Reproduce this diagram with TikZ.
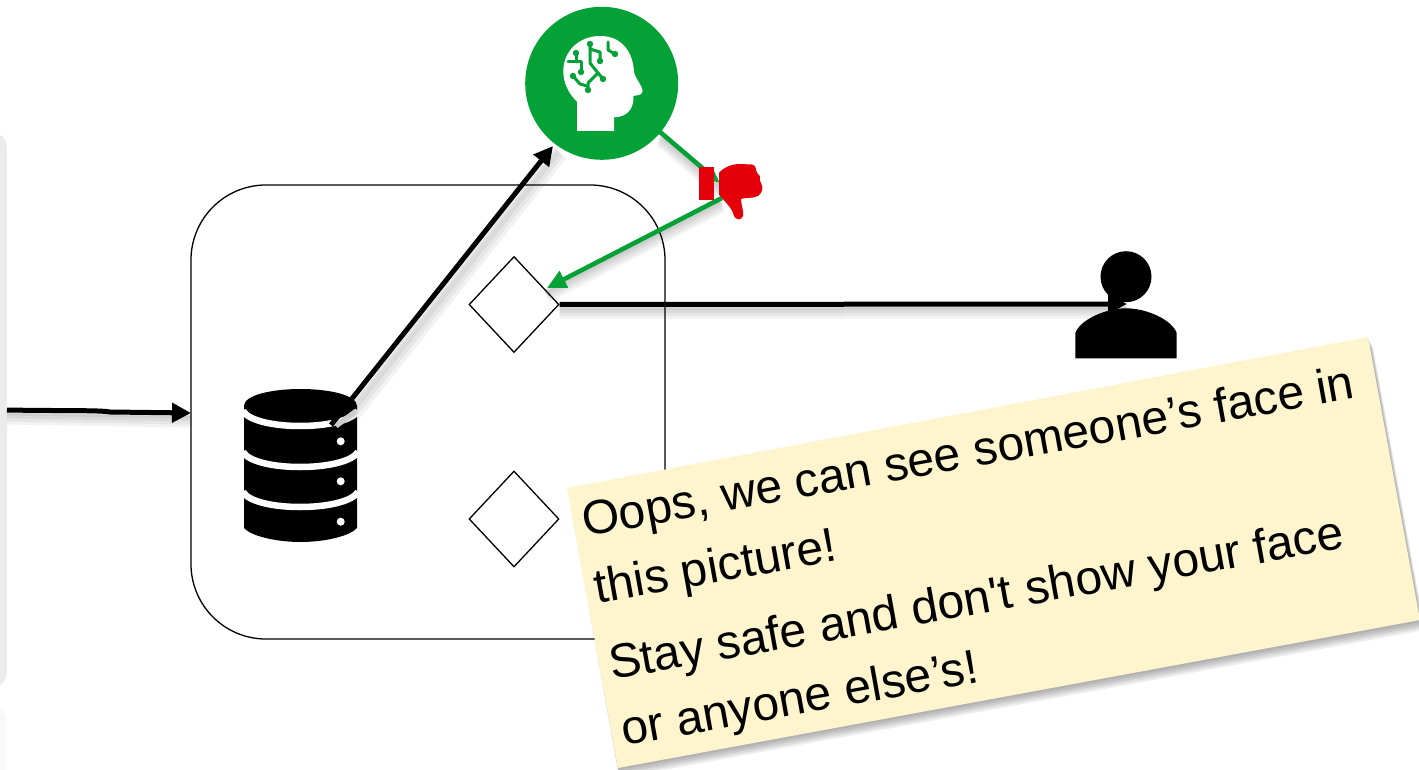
\documentclass[tikz,border=0pt]{standalone}
\usepackage{fontspec}
\setmainfont{Liberation Sans}
\newfontfamily\plainf{Liberation Sans}
\usetikzlibrary{arrows.meta,shapes.geometric}
\definecolor{gr}{HTML}{04A136}
\definecolor{rd}{HTML}{E3000B}
\definecolor{sticky}{HTML}{FEF4CD}
\tikzset{
 blk/.style={draw=black,line width=5pt,-{Triangle[length=19pt,width=19pt]}},
 grn/.style={draw=gr,line width=4.6pt,-{Triangle[length=19pt,width=18pt]}},
 shd/.style={draw=black,opacity=.05,line width=#1},
 dia/.style={diamond,draw=black,line width=1.3pt,fill=white,minimum width=90pt,minimum height=96pt,inner sep=0pt,aspect=.94},
 stxt/.style={anchor=base west,rotate=10.2,font=\plainf\fontsize{48}{48}\selectfont,inner sep=0pt,text=black},
 cir/.style={draw=gr,line width=3pt,line cap=round,line join=round},
 dot/.style={fill=gr},
}
\begin{document}
\begin{tikzpicture}[x=1pt,y=-1pt]
\useasboundingbox (0,0) rectangle (1419,770);
% left panels
\fill[black!2.5,rounded corners=16pt] (-40,706) rectangle (7,820);
\fill[black!8,rounded corners=16pt] (-40,132) rectangle (7,688);
% container
\draw[line width=1.3pt,rounded corners=75pt] (191,185) rectangle (665,639);
\node[dia] (d1) at (514,304.5) {};
\node[dia] (d2) at (514,519) {};
% coordinates
\coordinate (inL) at (7,410);
\coordinate (inR) at (191,413);
\coordinate (dbOut) at (331,425);
\coordinate (brainIn) at (553,146);
\coordinate (userIn) at (1127,304);
\coordinate (brOut) at (660,132);
\coordinate (thumbIn) at (720,183);
\coordinate (thumbOut) at (722,198);
\coordinate (diaIn) at (547,288);
% database
\fill[black] (244,406) .. controls (244,395) and (272,389) .. (300.5,389)
  .. controls (329,389) and (357,395) .. (357,406)
  -- (357,528) .. controls (350,536) and (325,542) .. (300.5,542) .. controls (276,542) and (251,536) .. (244,528) -- cycle;
\foreach \yy in {411,452,492}{
  \draw[white,line width=6.5pt] (243,\yy) .. controls (255,\yy+20) and (345,\yy+20) .. (358,\yy);
}
\foreach \yy in {441.3,481.3,521.7}{ \fill[white] (340.7,\yy) circle[radius=4]; }
% soft shadows of the connectors
\foreach \s/\w in {3/5,5/7,7/9,9/11}{
  \draw[shd=\w pt] ([yshift=-\s pt]d1.east) -- ([yshift=-\s pt]userIn);
  \draw[shd=\w pt] ([yshift=-\s pt]inL) -- ([yshift=-\s pt]inR);
  \draw[shd=\w pt] ([yshift=-\s pt]diaIn) -- ([yshift=-\s pt]thumbOut);
  \draw[shd=\w pt] ([yshift=-\s pt]brOut) -- ([yshift=-\s pt]thumbIn);
  \draw[shd=\w pt] ([yshift=-\s pt,xshift=\s pt]brainIn) -- ([yshift=-\s pt,xshift=\s pt]dbOut);
}
\draw[white!80!black,line width=5pt] (336,426) -- (356,411);
% black connectors
\draw[blk] (inL) .. controls (60,411) and (100,410) .. (110,412) -- (inR);
\draw[blk] (dbOut) -- (brainIn);
% brain
\node[circle,fill=gr,minimum size=153pt,inner sep=0pt] (brain) at (601.7,83.3) {};
\fill[white] (577,131) -- (577,101.7) .. controls (568,93) and (563,82) .. (563.3,70)
  .. controls (564,50) and (580,36) .. (600,36) .. controls (622,36) and (633,52) .. (634,72)
  .. controls (636,80) and (642,85) .. (642.7,91) .. controls (642,96) and (636,95) .. (633.5,96)
  .. controls (634,108) and (628,117) .. (614,117.3) -- (614,131) -- cycle;
% brain circuit
\draw[cir] (568,62) -- (581,62);
\draw[cir] (576,53) -- (576,62) (581,62) -- (581,72);
\draw[cir] (590,44) -- (590,63) -- (598,73) -- (603,79);
\draw[cir] (590,49) -- (600,52) -- (600,61);
\draw[cir] (598,73) -- (588,83) -- (588,90);
\draw[cir] (573,76) -- (580,84) -- (587,86);
\draw[cir] (608,42) -- (608,50) -- (615,54);
\foreach \px/\py in {590/44,576/53,581/72,600/61,603/79,588/90,573/76,615/54}{
  \fill[dot] (\px,\py) circle[radius=3.2];
}
% green connectors
\draw[grn,-{Triangle[length=14pt,width=11pt]}] (brOut) -- (thumbIn);
\draw[grn] (thumbOut) -- (diaIn);
% thumb
\fill[rd] (699.3,167.3) rectangle (714,200);
\fill[rd] (719,173) .. controls (724,167) and (732,164) .. (740,164) -- (752,164.5)
  .. controls (757,165) and (755,171) .. (758,174) .. controls (762,176) and (758,180) .. (761,183)
  .. controls (764,188) and (762,193) .. (758,196) .. controls (752,199) and (745,197) .. (741,199)
  .. controls (741,205) and (744,211) .. (743,216) .. controls (741,221) and (736,220) .. (734,216)
  .. controls (732,208) and (727,204) .. (722,198) -- (719,195) -- cycle;
% user
\draw[blk] (d1.east) -- (userIn);
\fill[black] (1126,276.7) circle[radius=25.5];
\fill[black] (1075.3,358.3) -- (1075.3,333) .. controls (1080,320) and (1105,308.3) .. (1126,308.3)
  .. controls (1147,308.3) and (1172,320) .. (1176.7,333) -- (1176.7,358.3) -- cycle;
% sticky with soft shadow
\foreach \d in {10,8,6,4,2}{
  \fill[black,opacity=.07] (567+\d/3,488+\d) -- (1368+\d/2,337+\d) -- (1420+\d/2,620+\d) -- (617+\d/3,768+\d) -- cycle;
}
\fill[sticky] (567,488) -- (1368,337) -- (1420,620) -- (618,768) -- cycle;
\node[stxt] (t1) at (585,537) {Oops, we can see someone’s face in};
\node[stxt] (t2) at (597,604) {this picture!};
\node[stxt] (t3) at (612,680) {Stay safe and don't show your face};
\node[stxt] (t4) at (624,746) {or anyone else’s!};
\end{tikzpicture}
\end{document}
